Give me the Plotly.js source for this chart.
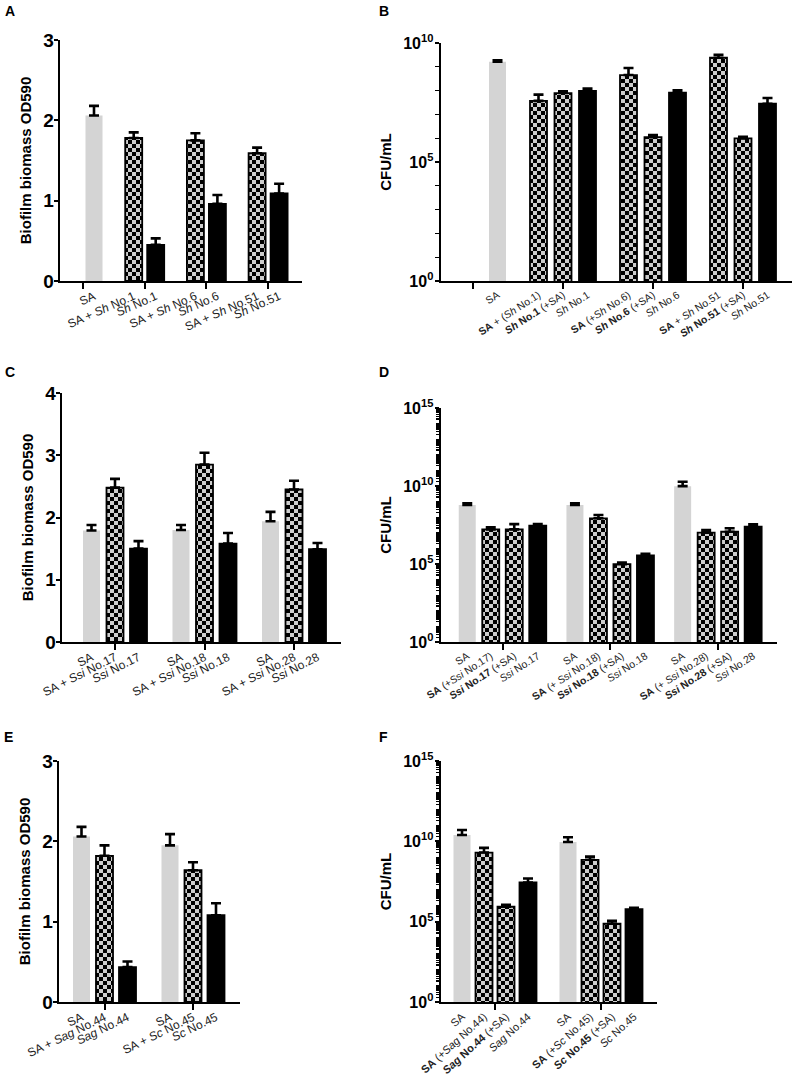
<!DOCTYPE html>
<html><head><meta charset="utf-8">
<script src="https://cdn.plot.ly/plotly-3.0.1.min.js"></script>
<style>html,body{margin:0;padding:0;background:#fff}#chart{width:793px;height:1078px}</style>
</head><body><div id="chart"></div>
<script>
// ---------------- DATA ----------------
// Panel A: biofilm biomass (OD590)
const aLabels = ['SA', 'SA + <i>Sh</i> No.1', '<i>Sh</i> No.1', 'SA + <i>Sh</i> No.6', '<i>Sh</i> No.6', 'SA + <i>Sh</i> No.51', '<i>Sh</i> No.51'];
const aKinds  = ['SA', 'mix', 'mono', 'mix', 'mono', 'mix', 'mono'];
const aValues = [2.06, 1.78, 0.45, 1.75, 0.96, 1.59, 1.09];
const aErrors = [0.12, 0.07, 0.08, 0.09, 0.11, 0.07, 0.12];

// Panel B: CFU/mL
const bLabels = ['SA', '<b>SA</b> + (<i>Sh</i> No.1)', '<b><i>Sh</i> No.1</b> (+SA)', '<i>Sh</i> No.1',
                 '<b>SA</b> (+<i>Sh</i> No.6)', '<b><i>Sh</i> No.6</b> (+SA)', '<i>Sh</i> No.6',
                 '<b>SA</b> + <i>Sh</i> No.51', '<b><i>Sh</i> No.51</b> (+SA)', '<i>Sh</i> No.51'];
const bKinds  = ['SA', 'mix', 'mix', 'mono', 'mix', 'mix', 'mono', 'mix', 'mix', 'mono'];
const bValues = [1.62e9, 3.7e7, 7.9e7, 9.8e7, 4.5e8, 1.1e6, 8.3e7, 2.4e9, 9.8e5, 2.8e7];
const bUpper  = [1.86e9, 6.8e7, 9.3e7, 1.23e8, 8.9e8, 1.35e6, 1.02e8, 3.2e9, 1.15e6, 4.9e7];

// Panel C: biofilm biomass (OD590)
const cLabels = ['SA', 'SA + <i>Ssi</i> No.17', '<i>Ssi</i> No.17', 'SA', 'SA + <i>Ssi</i> No.18', '<i>Ssi</i> No.18', 'SA', 'SA + <i>Ssi</i> No.28', '<i>Ssi</i> No.28'];
const cKinds  = ['SA', 'mix', 'mono', 'SA', 'mix', 'mono', 'SA', 'mix', 'mono'];
const cValues = [1.79, 2.48, 1.50, 1.80, 2.85, 1.58, 1.94, 2.45, 1.49];
const cErrors = [0.09, 0.14, 0.12, 0.08, 0.19, 0.17, 0.15, 0.14, 0.10];

// Panel D: CFU/mL
const dLabels = ['SA', '<b>SA</b> (+<i>Ssi</i> No.17)', '<b><i>Ssi</i> No.17</b> (+SA)', '<i>Ssi</i> No.17',
                 'SA', '<b>SA</b> (+ <i>Ssi</i> No.18)', '<b><i>Ssi</i> No.18</b> (+SA)', '<i>Ssi</i> No.18',
                 'SA', '<b>SA</b> (+ <i>Ssi</i> No.28)', '<b><i>Ssi</i> No.28</b> (+SA)', '<i>Ssi</i> No.28'];
const dKinds  = ['SA', 'mix', 'mix', 'mono', 'SA', 'mix', 'mix', 'mono', 'SA', 'mix', 'mix', 'mono'];
const dValues = [6.0e8, 1.66e7, 1.66e7, 2.9e7, 6.0e8, 8.5e7, 9.8e4, 3.5e5, 9.8e9, 1.02e7, 1.17e7, 2.45e7];
const dUpper  = [7.8e8, 2.24e7, 3.6e7, 3.6e7, 7.8e8, 1.38e8, 1.23e5, 4.5e5, 1.86e10, 1.5e7, 1.95e7, 3.5e7];

// Panel E: biofilm biomass (OD590)
const eLabels = ['SA', 'SA + <i>Sag</i> No.44', '<i>Sag</i> No.44', 'SA', 'SA + <i>Sc</i> No.45', '<i>Sc</i> No.45'];
const eKinds  = ['SA', 'mix', 'mono', 'SA', 'mix', 'mono'];
const eValues = [2.06, 1.82, 0.435, 1.95, 1.64, 1.08];
const eErrors = [0.12, 0.13, 0.07, 0.14, 0.10, 0.15];

// Panel F: CFU/mL
const fLabels = ['SA', '<b>SA</b> (+<i>Sag</i> No.44)', '<b><i>Sag</i> No.44</b> (+SA)', '<i>Sag</i> No.44',
                 'SA', '<b>SA</b> (+<i>Sc</i> No.45)', '<b><i>Sc</i> No.45</b> (+SA)', '<i>Sc</i> No.45'];
const fKinds  = ['SA', 'mix', 'mix', 'mono', 'SA', 'mix', 'mix', 'mono'];
const fValues = [2.5e10, 2.0e9, 8.5e5, 2.75e7, 9.1e9, 7.1e8, 7.4e4, 6.0e5];
const fUpper  = [5.1e10, 3.9e9, 1.12e6, 4.9e7, 1.78e10, 1.12e9, 1.12e5, 7.2e5];

const odTitle = 'Biofilm biomass OD590';
const cfuTitle = 'CFU/mL';
const panelLetters = ['A', 'B', 'C', 'D', 'E', 'F'];

// ---------------- LAYOUT / STYLE ----------------
const W = 793, H = 1078;
const FONT = 'Arial, "Liberation Sans", sans-serif';
const COLORS = {SA: '#d4d4d4', mix: '#cdcdcd', mono: '#000000'};

const panels = [
  {labels: aLabels, kinds: aKinds, values: aValues, errors: aErrors, log: false,
   xpx: [60, 302], ypx: [40, 281], yrange: [0, 3], ytv: [0, 1, 2, 3],
   groups: [2, 2, 2, 2], empty: [0], g0: 83, gap: 61.7, sp: 22, angle: -24, lsize: 12, title: odTitle,
   letter: [3, 1], minor: false},
  {labels: bLabels, kinds: bKinds, values: bValues, upper: bUpper, log: true,
   xpx: [441, 792], ypx: [43, 281], yrange: [0, 10], ytv: [0, 5, 10],
   groups: [3, 3, 3, 3], empty: [0, 1], g0: 473, gap: 90, sp: 24.5, angle: -33, lsize: 10.5, title: cfuTitle,
   letter: [377, 1], minor: false},
  {labels: cLabels, kinds: cKinds, values: cValues, errors: cErrors, log: false,
   xpx: [62, 341], ypx: [393, 642], yrange: [0, 4], ytv: [0, 1, 2, 3, 4],
   groups: [3, 3, 3], empty: [], g0: 115, gap: 89.5, sp: 23.5, angle: -27, lsize: 12, title: odTitle,
   letter: [3, 362], minor: false},
  {labels: dLabels, kinds: dKinds, values: dValues, upper: dUpper, log: true,
   xpx: [441, 777], ypx: [408, 642], yrange: [0, 15], ytv: [0, 5, 10, 15],
   groups: [4, 4, 4], empty: [], g0: 502.5, gap: 107.7, sp: 23.5, angle: -33, lsize: 10.5, title: cfuTitle,
   letter: [377, 362], minor: true},
  {labels: eLabels, kinds: eKinds, values: eValues, errors: eErrors, log: false,
   xpx: [59, 240], ypx: [761, 1002], yrange: [0, 3], ytv: [0, 1, 2, 3],
   groups: [3, 3], empty: [], g0: 104.5, gap: 88.5, sp: 23, angle: -26, lsize: 12, title: odTitle,
   letter: [2, 727], minor: false},
  {labels: fLabels, kinds: fKinds, values: fValues, upper: fUpper, log: true,
   xpx: [441, 657], ypx: [761, 1002], yrange: [0, 15], ytv: [0, 5, 10, 15],
   groups: [4, 4], empty: [], g0: 495, gap: 106, sp: 22, angle: -42, lsize: 11, title: cfuTitle,
   letter: [377, 727], minor: true}
];

const traces = [];
const layout = {
  width: W, height: H, margin: {l: 0, r: 0, t: 0, b: 0},
  paper_bgcolor: '#fff', plot_bgcolor: 'rgba(0,0,0,0)',
  showlegend: false, bargap: 0, font: {family: FONT, color: '#000'},
  annotations: []
};

panels.forEach((p, i) => {
  const n = i + 1;
  const xs = n === 1 ? '' : String(n);
  const lx = String(n + 6);
  const centers = p.groups.map((_, g) => p.g0 + g * p.gap);
  const pos = [];
  let slot = 0;
  p.groups.forEach((size, g) => {
    for (let s = 0; s < size; s++, slot++) {
      if (p.empty.includes(slot)) continue;
      pos.push(centers[g] + (s - (size - 1) / 2) * p.sp);
    }
  });
  const err = p.log ? p.upper.map((u, k) => u - p.values[k]) : p.errors;
  traces.push({
    type: 'bar', x: pos, y: p.values, width: 17,
    xaxis: 'x' + xs, yaxis: 'y' + xs, hoverinfo: 'skip',
    marker: {
      color: p.kinds.map(k => COLORS[k]),
      line: {color: '#000', width: p.kinds.map(k => k === 'SA' ? 0 : 1.8)},
      pattern: {shape: p.kinds.map(k => k === 'mix' ? '+' : ''), fgcolor: '#000', bgcolor: COLORS.mix,
                size: 8, solidity: 0.5}
    },
    error_y: {type: 'data', symmetric: false, array: err, arrayminus: err.map(() => 0),
              color: '#000', thickness: 2.6, width: 5}
  });
  traces.push({type: 'scatter', x: [], y: [], xaxis: 'x' + lx, yaxis: 'y' + xs, hoverinfo: 'skip'});

  const xdom = [p.xpx[0] / W, p.xpx[1] / W];
  const ydom = [1 - p.ypx[1] / H, 1 - p.ypx[0] / H];
  layout['xaxis' + xs] = {
    domain: xdom, range: p.xpx, anchor: 'y' + xs, showline: true, linecolor: '#000', linewidth: 2.4,
    ticks: 'outside', tickvals: centers, ticklen: 6, tickwidth: 2, tickcolor: '#000',
    showticklabels: false, showgrid: false, zeroline: false, fixedrange: true
  };
  layout['xaxis' + lx] = {
    overlaying: 'x' + xs, anchor: 'y' + xs, side: 'bottom', range: p.xpx, showline: false,
    ticks: 'outside', ticklen: 3, tickcolor: 'rgba(0,0,0,0)', tickvals: pos, ticktext: p.labels,
    tickangle: p.angle, tickfont: {size: p.lsize, color: '#222', family: FONT},
    showgrid: false, zeroline: false, fixedrange: true
  };
  const yax = {
    domain: ydom, anchor: 'x' + xs, showline: true, linecolor: '#000', linewidth: 2.4,
    ticks: 'outside', ticklen: 4, tickwidth: 2, tickcolor: '#000', ticklabelstandoff: -4,
    showgrid: false, zeroline: false, fixedrange: true,
    title: {text: '<b>' + p.title + '</b>', font: {size: 15, family: FONT}, standoff: 8}
  };
  if (p.log) {
    yax.type = 'log';
    yax.range = p.yrange;
    yax.tickvals = p.ytv.map(e => Math.pow(10, e));
    yax.ticktext = p.ytv.map(e => '10<sup>' + e + '</sup>');
    yax.tickfont = {size: 16, weight: 'bold', family: FONT};
    yax.ticklabelstandoff = -2;
    const minors = [];
    for (let e = p.yrange[0]; e < p.yrange[1]; e++) {
      const mults = p.minor ? [1, 2, 3, 4, 5, 6, 7, 8, 9] : [1];
      mults.forEach(m => { if (!(m === 1 && p.ytv.includes(e))) minors.push(m * Math.pow(10, e)); });
    }
    yax.minor = {tickmode: 'array', tickvals: minors, ticks: 'outside', ticklen: p.minor ? 3 : 4,
                 tickwidth: 1.3, tickcolor: '#000'};
  } else {
    yax.range = p.yrange;
    yax.tickvals = p.ytv;
    yax.tickfont = {size: 19, weight: 'bold', family: FONT};
  }
  layout['yaxis' + xs] = yax;

  layout.annotations.push({
    text: '<b>' + panelLetters[i] + '</b>', xref: 'paper', yref: 'paper',
    x: p.letter[0] / W, y: 1 - p.letter[1] / H, xanchor: 'left', yanchor: 'top',
    showarrow: false, font: {size: 14, family: FONT}
  });
});

const SVGNS = 'http://www.w3.org/2000/svg';
Plotly.newPlot('chart', traces, layout, {staticPlot: true, displayModeBar: false}).then(gd => {
  // replace the library's hatch texture with a checkerboard texture
  gd.querySelectorAll('pattern').forEach(pt => {
    const s = +pt.getAttribute('width') || 8;
    const h = s / 2;
    while (pt.firstChild) pt.removeChild(pt.firstChild);
    const bg = document.createElementNS(SVGNS, 'rect');
    bg.setAttribute('width', s); bg.setAttribute('height', s);
    bg.setAttribute('style', 'fill:' + COLORS.mix + ';stroke:none');
    const fg = document.createElementNS(SVGNS, 'path');
    fg.setAttribute('d', `M0,0H${h}V${h}H0Z M${h},${h}H${s}V${s}H${h}Z`);
    fg.setAttribute('style', 'fill:#000;stroke:none;opacity:1');
    pt.appendChild(bg); pt.appendChild(fg);
  });
});
</script>
</body></html>
